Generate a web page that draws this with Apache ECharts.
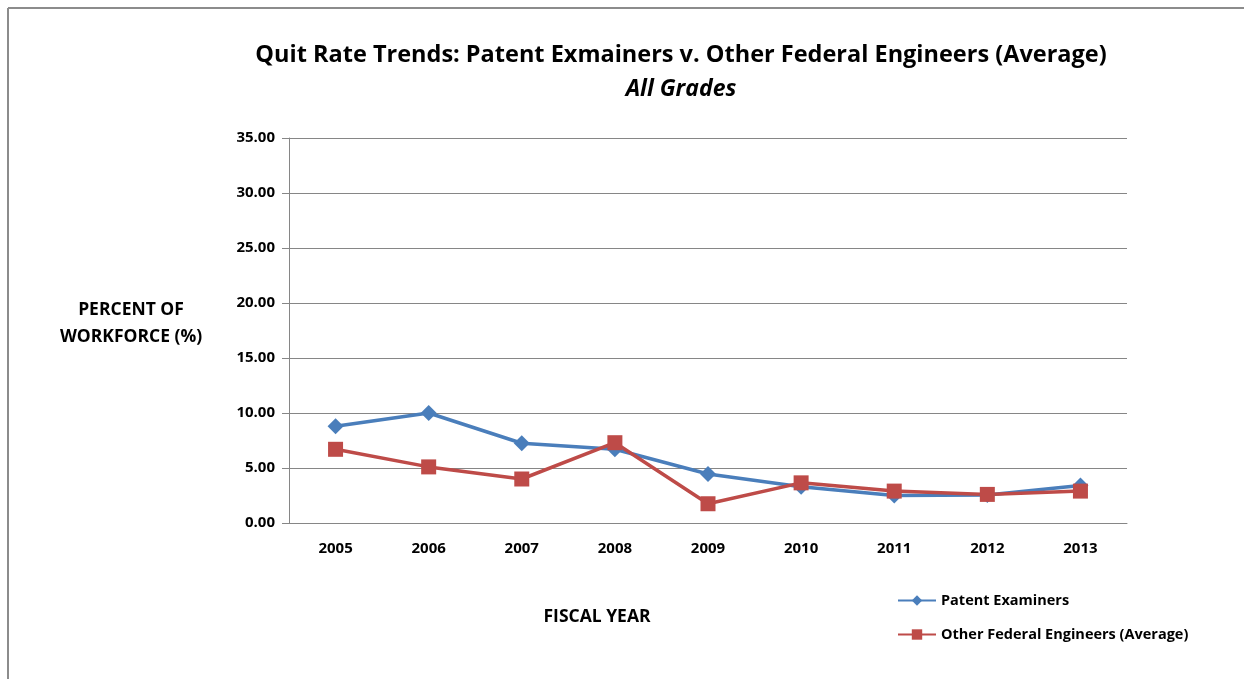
<!DOCTYPE html>
<html>
<head>
<meta charset="utf-8">
<style>
  html, body { margin: 0; padding: 0; background: #fff; }
  #chart { width: 1244px; height: 679px; }
</style>
<script src="https://cdn.jsdelivr.net/npm/echarts@6/dist/echarts.min.js"></script>
</head>
<body>
<div id="chart"></div>
<script>
const years = ["2005", "2006", "2007", "2008", "2009", "2010", "2011", "2012", "2013"];
const patentExaminers = [8.8, 10.0, 7.25, 6.7, 4.45, 3.3, 2.5, 2.55, 3.4];
const otherEngineers = [6.7, 5.1, 4.0, 7.3, 1.75, 3.65, 2.9, 2.6, 2.9];

const font = "'Open Sans', 'Liberation Sans', sans-serif";

const chart = echarts.init(document.getElementById("chart"));
chart.setOption({
  animation: false,
  color: ["#4A7EBB", "#BE4B48"],
  title: {
    text: "Quit Rate Trends: Patent Exmainers v. Other Federal Engineers (Average)",
    subtext: "All Grades",
    left: 676,
    textAlign: "center",
    top: 38,
    itemGap: 11,
    textStyle: { fontFamily: font, fontSize: 23.5, fontWeight: "bold", color: "#000" },
    subtextStyle: { fontFamily: font, fontSize: 23, fontWeight: "bold", fontStyle: "italic", color: "#000" },
  },
  legend: {
    orient: "vertical",
    left: 892,
    top: 588,
    itemGap: 19,
    itemWidth: 38,
    itemHeight: 13,
    textStyle: { fontFamily: font, fontSize: 14.5, fontWeight: "bold", color: "#000" },
  },
  grid: {
    left: 289,
    right: 117,
    top: 138,
    bottom: 156,
  },
  xAxis: {
    type: "category",
    data: years,
    axisLine: { lineStyle: { color: "#868686" } },
    axisTick: { lineStyle: { color: "#868686" }, length: 6 },
    axisLabel: { fontFamily: font, fontSize: 15, fontWeight: "bold", color: "#000", margin: 18 },
  },
  yAxis: {
    type: "value",
    min: 0,
    max: 35,
    interval: 5,
    axisLine: { show: true, lineStyle: { color: "#868686" } },
    axisTick: { show: true, lineStyle: { color: "#868686" }, length: 7 },
    splitLine: { lineStyle: { color: "#868686" } },
    axisLabel: {
      fontFamily: font, fontSize: 15, fontWeight: "bold", color: "#000", margin: 14,
      formatter: (v) => v.toFixed(2),
    },
  },
  graphic: [
    { type: "line", shape: { x1: 8, y1: 8, x2: 1244, y2: 8 }, style: { stroke: "#8c8c8c", lineWidth: 2 } },
    { type: "line", shape: { x1: 8, y1: 8, x2: 8, y2: 679 }, style: { stroke: "#8c8c8c", lineWidth: 2 } },
    {
      type: "text", x: 131, y: 324,
      style: {
        text: "PERCENT OF\nWORKFORCE (%)", align: "center", verticalAlign: "middle", lineHeight: 27,
        font: "bold 17.5px " + font, fill: "#000",
      },
    },
    {
      type: "text", x: 597, y: 617,
      style: { text: "FISCAL YEAR", align: "center", verticalAlign: "middle", font: "bold 17.5px " + font, fill: "#000" },
    },
  ],
  series: [
    {
      name: "Patent Examiners",
      type: "line",
      data: patentExaminers,
      symbol: "diamond",
      symbolSize: 16,
      lineStyle: { width: 3.5 },
    },
    {
      name: "Other Federal Engineers (Average)",
      type: "line",
      data: otherEngineers,
      symbol: "rect",
      symbolSize: 15,
      lineStyle: { width: 3.5 },
    },
  ],
});
</script>
</body>
</html>
